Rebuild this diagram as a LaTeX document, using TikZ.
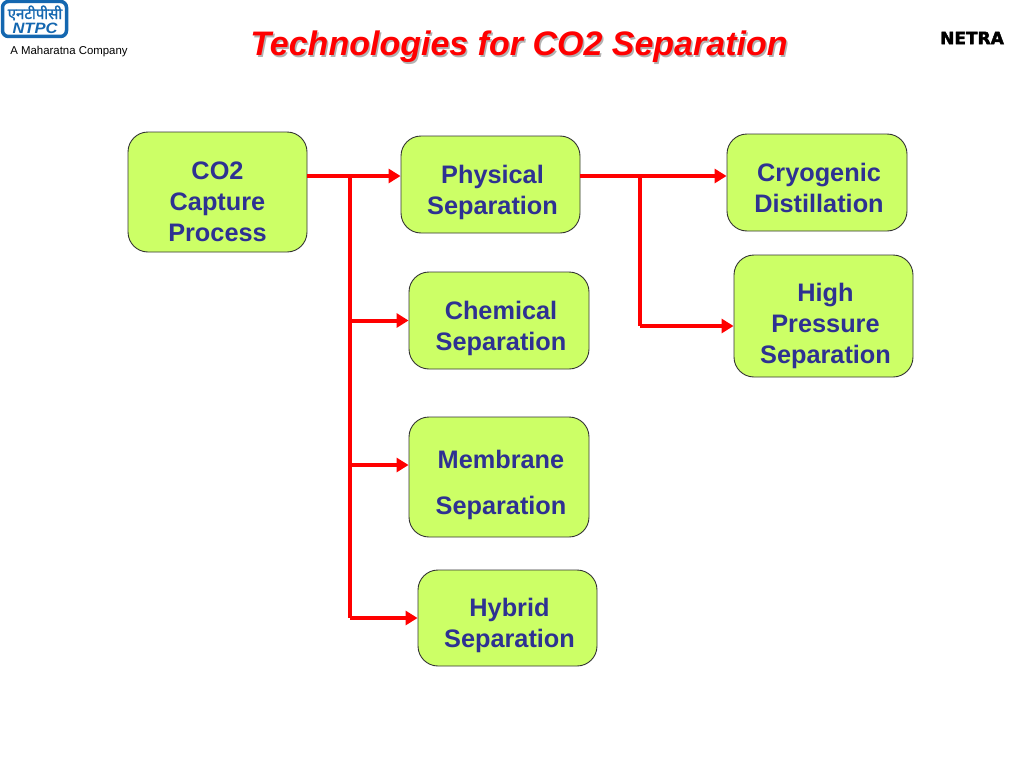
\documentclass[tikz,border=0pt]{standalone}
\usepackage{fontspec}
\setmainfont{Liberation Sans}
\newfontfamily\hindifont[Script=Devanagari,FakeBold=1.5]{Noto Sans}
\newfontfamily\netrafont[FakeBold=2.5]{DejaVu Sans Bold}
\usetikzlibrary{arrows.meta}
\definecolor{boxgreen}{HTML}{CCFF66}
\definecolor{boxtext}{HTML}{2E3192}
\definecolor{logoblue}{HTML}{1467B0}
\tikzset{>={Triangle[length=12pt,width=14pt]}}
\tikzset{techbox/.style={draw=black!80,line width=0.9pt,fill=boxgreen,rounded corners=20pt,inner sep=0pt}}
\tikzset{techlabel/.style={text=boxtext,align=center,inner sep=0pt,font=\fontsize{25.3}{31}\selectfont\bfseries}}
\tikzset{redline/.style={draw=red,line width=4pt}}
\tikzset{titletext/.style={font=\fontsize{34}{40}\selectfont\bfseries\itshape}}
\begin{document}
\begin{tikzpicture}[x=1pt,y=-1pt]
  \useasboundingbox[fill=white] (0,0) rectangle (1024,768);
  % header
  \node[titletext,text=black!30] (titleshade) at (520.5,48.5) {Technologies for CO2 Separation};
  \node[titletext,text=red] (title) at (519,47) {Technologies for CO2 Separation};
  \node[font=\fontsize{11.4}{13}\selectfont] (company) at (69,51.5) {A Maharatna Company};
  \node[font=\fontsize{17}{20}\netrafont] (netra) at (972,38) {NETRA};
  \draw[logoblue,line width=3.5pt,fill=white,rounded corners=6pt] (2.5,1.5) rectangle (66.5,36.5);
  \node[logoblue,font=\fontsize{15}{15}\hindifont] (logohindi) at (35,13) {एनटीपीसी};
  \node[logoblue,xscale=1.1,font=\fontsize{15}{15}\selectfont\bfseries\itshape] (logontpc) at (35,28.5) {NTPC};
  % boxes
  \node[techbox,minimum width=179pt,minimum height=120pt,label={[techlabel,yshift=-10pt]center:CO2\\Capture\\Process}] (capture) at (217.5,192) {};
  \node[techbox,minimum width=179pt,minimum height=97pt,label={[techlabel,xshift=2pt,yshift=-8pt]center:Physical\\Separation}] (physical) at (490.5,184.5) {};
  \node[techbox,minimum width=180pt,minimum height=97pt,label={[techlabel,xshift=2pt,yshift=-8pt]center:Chemical\\Separation}] (chemical) at (499,320.5) {};
  \node[techbox,minimum width=180pt,minimum height=120pt,label={[techlabel,xshift=2pt,yshift=-8pt]center:Membrane\\[15pt]Separation}] (membrane) at (499,477) {};
  \node[techbox,minimum width=179pt,minimum height=96pt,label={[techlabel,xshift=2pt,yshift=-7pt]center:Hybrid\\Separation}] (hybrid) at (507.5,618) {};
  \node[techbox,minimum width=180pt,minimum height=97pt,label={[techlabel,xshift=2pt,yshift=-5pt]center:Cryogenic\\Distillation}] (cryogenic) at (817,182.5) {};
  \node[techbox,minimum width=179pt,minimum height=122pt,label={[techlabel,xshift=2pt,yshift=-10pt]center:High\\Pressure\\Separation}] (highpressure) at (823.5,316) {};
  % left tree
  \coordinate (trunktop) at (350,176);
  \coordinate (trunkbottom) at (350,618);
  \coordinate (chemjoin) at (350,320.5);
  \coordinate (membjoin) at (350,465);
  \draw[redline,->] (capture.east |- trunktop) -- (physical.west |- trunktop);
  \draw[redline] (trunktop) -- (trunkbottom);
  \draw[redline,->] (chemjoin) -- (chemical.west |- chemjoin);
  \draw[redline,->] (membjoin) -- (membrane.west |- membjoin);
  \draw[redline,->] (trunkbottom) -- (hybrid.west |- trunkbottom);
  % right tree
  \coordinate (forktop) at (640,176);
  \coordinate (forkbottom) at (640,326);
  \draw[redline,->] (physical.east |- forktop) -- (cryogenic.west |- forktop);
  \draw[redline] (forktop) -- (forkbottom);
  \draw[redline,->] (forkbottom) -- (highpressure.west |- forkbottom);
\end{tikzpicture}
\end{document}
